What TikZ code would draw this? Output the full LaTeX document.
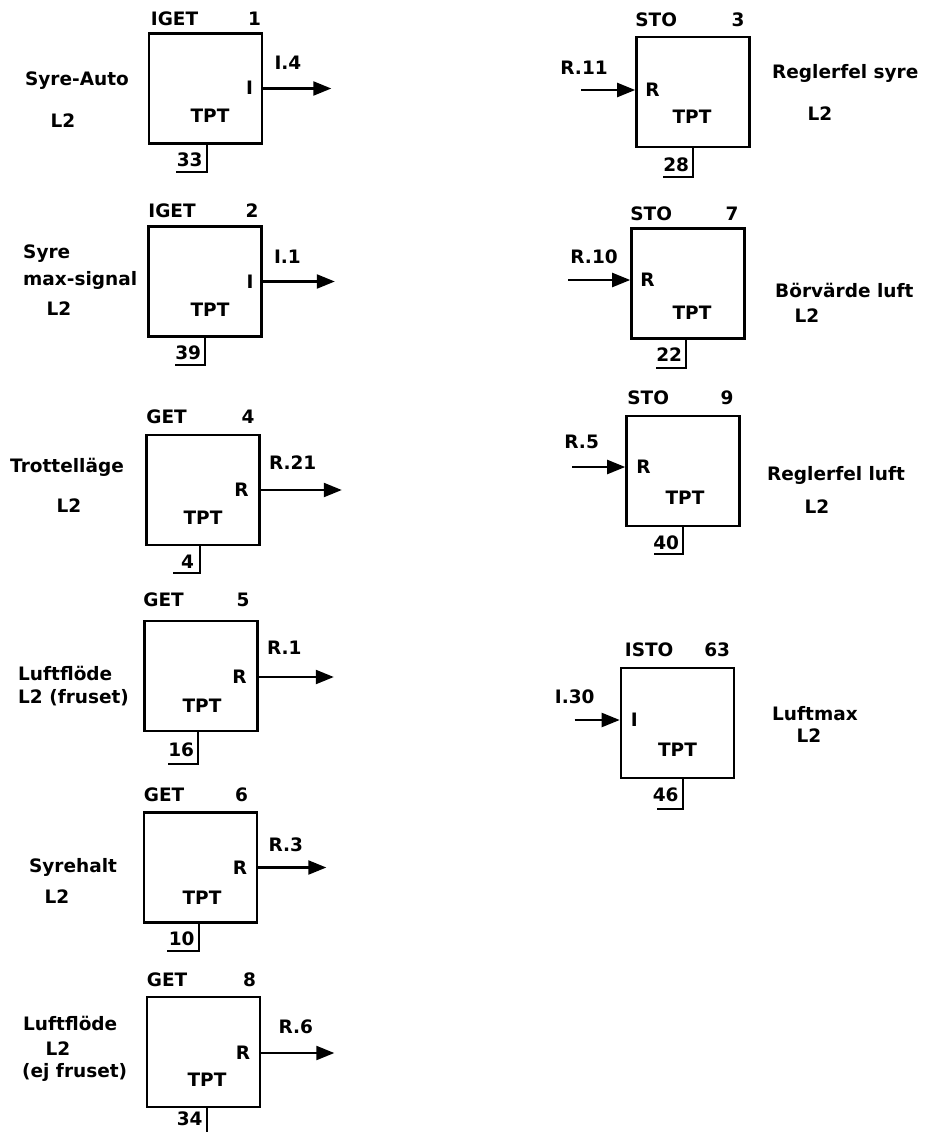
\documentclass[tikz,border=0pt]{standalone}
\usepackage{fontspec}
\setmainfont{DejaVu Sans}
\usetikzlibrary{arrows.meta,calc,positioning}

\begin{document}
\begin{tikzpicture}[x=1pt,y=-1pt,
  font=\fontsize{18.5}{22}\selectfont\bfseries,
  blk/.style={draw,line width=2.6pt,minimum width=113pt,minimum height=110pt,inner sep=0pt},
  txt/.style={inner sep=0pt,anchor=base},
  sig/.style={line width=2.2pt,-{Triangle[length=18pt,width=14pt]}},
  tab/.style={line width=2.2pt}]
\useasboundingbox (0,0) rectangle (924,1132);
\clip (0,0) rectangle (924,1132);

% left column: GET blocks
\node[blk] (b1) at (205.5,88.5) {};
\node[txt,anchor=base west] (b1h) at ($(b1.north west)+(3,-6.5)$) {IGET};
\node[txt,anchor=base east] (b1m) at ($(b1.north east)+(-2,-6.5)$) {1};
\node[txt,anchor=base east] (b1p) at ($(b1.east)+(-10,6.5)$) {I};
\node[txt] (b1c) at ($(b1.center)+(4.5,34)$) {TPT};
\coordinate (b1o) at ($(b1.east)+(68,0)$);
\draw[sig] (b1.east) -- (b1o);
\node[txt,anchor=base west] (b1s) at ($(b1.east)+(11,-18.5)$) {I.4};
\draw[tab] ($(b1.south west)+(59,0)$) |- ++(-31,27);
\node[txt,anchor=base east] (b1n) at ($(b1.south west)+(55,22)$) {33};
\node[txt] (d1a) at (77,85) {Syre-Auto};
\node[txt] (d1b) at (63,127) {L2};

\node[blk] (b2) at (205,281.5) {};
\node[txt,anchor=base west] (b2h) at ($(b2.north west)+(1,-7.5)$) {IGET};
\node[txt,anchor=base east] (b2m) at ($(b2.north east)+(-4,-7.5)$) {2};
\node[txt,anchor=base east] (b2p) at ($(b2.east)+(-9,6.5)$) {I};
\node[txt] (b2c) at ($(b2.center)+(5,35)$) {TPT};
\coordinate (b2o) at ($(b2.east)+(72,0)$);
\draw[sig] (b2.east) -- (b2o);
\node[txt,anchor=base west] (b2s) at ($(b2.east)+(11,-18.5)$) {I.1};
\draw[tab] ($(b2.south west)+(58,0)$) |- ++(-30,27);
\node[txt,anchor=base east] (b2n) at ($(b2.south west)+(54,22)$) {39};
\node[txt,anchor=base west] (d2a) at (23,258) {Syre};
\node[txt,anchor=base west] (d2b) at (23,285) {max-signal};
\node[txt] (d2c) at (59,315) {L2};

\node[blk] (b4) at (203,490) {};
\node[txt,anchor=base west] (b4h) at ($(b4.north west)+(1,-10.5)$) {GET};
\node[txt,anchor=base east] (b4m) at ($(b4.north east)+(-6,-10.5)$) {4};
\node[txt,anchor=base east] (b4p) at ($(b4.east)+(-12,6.5)$) {R};
\node[txt] (b4c) at ($(b4.center)+(0,34.5)$) {TPT};
\coordinate (b4o) at ($(b4.east)+(81,0)$);
\draw[sig] (b4.east) -- (b4o);
\node[txt,anchor=base west] (b4s) at ($(b4.east)+(8,-20.5)$) {R.21};
\draw[tab] ($(b4.south west)+(55,0)$) |- ++(-27,27);
\node[txt,anchor=base east] (b4n) at ($(b4.south west)+(49,22)$) {4};
\node[txt] (d4a) at (67,472) {Trottelläge};
\node[txt] (d4b) at (69,512) {L2};

\node[blk] (b5) at (201,676) {};
\node[txt,anchor=base west] (b5h) at ($(b5.north west)+(0,-13.5)$) {GET};
\node[txt,anchor=base east] (b5m) at ($(b5.north east)+(-9,-13.5)$) {5};
\node[txt,anchor=base east] (b5p) at ($(b5.east)+(-12,7.5)$) {R};
\node[txt] (b5c) at ($(b5.center)+(1,36.5)$) {TPT};
\coordinate (b5o) at ($(b5.east)+(75,1)$);
\draw[sig] ($(b5.east)+(0,1)$) -- (b5o);
\node[txt,anchor=base west] (b5s) at ($(b5.east)+(8,-21.5)$) {R.1};
\draw[tab] ($(b5.south west)+(55,0)$) |- ++(-30,32);
\node[txt,anchor=base east] (b5n) at ($(b5.south west)+(51,24)$) {16};
\node[txt,anchor=base west] (d5a) at (18,680) {Luftflöde};
\node[txt,anchor=base west] (d5b) at (18,703) {L2 (fruset)};

\node[blk] (b6) at (200.5,867.5) {};
\node[txt,anchor=base west] (b6h) at ($(b6.north west)+(1,-9.5)$) {GET};
\node[txt,anchor=base east] (b6m) at ($(b6.north east)+(-10,-9.5)$) {6};
\node[txt,anchor=base east] (b6p) at ($(b6.east)+(-11,7)$) {R};
\node[txt] (b6c) at ($(b6.center)+(1.5,37)$) {TPT};
\coordinate (b6o) at ($(b6.east)+(68,0)$);
\draw[sig] (b6.east) -- (b6o);
\node[txt,anchor=base west] (b6s) at ($(b6.east)+(10,-16.5)$) {R.3};
\draw[tab] ($(b6.south west)+(56,0)$) |- ++(-32,27);
\node[txt,anchor=base east] (b6n) at ($(b6.south west)+(52,22)$) {10};
\node[txt] (d6a) at (73,872) {Syrehalt};
\node[txt] (d6b) at (57,903) {L2};

\node[blk] (b8) at (203.5,1052) {};
\node[txt,anchor=base west] (b8h) at ($(b8.north west)+(1,-9.5)$) {GET};
\node[txt,anchor=base east] (b8m) at ($(b8.north east)+(-5,-9.5)$) {8};
\node[txt,anchor=base east] (b8p) at ($(b8.east)+(-11,7.5)$) {R};
\node[txt] (b8c) at ($(b8.center)+(3.5,34.5)$) {TPT};
\coordinate (b8o) at ($(b8.east)+(73,1)$);
\draw[sig] ($(b8.east)+(0,1)$) -- (b8o);
\node[txt,anchor=base west] (b8s) at ($(b8.east)+(17,-18.5)$) {R.6};
\draw[tab] ($(b8.south west)+(61,0)$) |- ++(-31,30);
\node[txt,anchor=base east] (b8n) at ($(b8.south west)+(57,17)$) {34};
\node[txt,anchor=base west] (d8a) at (23,1030) {Luftflöde};
\node[txt] (d8b) at (58,1055) {L2};
\node[txt,anchor=base west] (d8c) at (22,1077) {(ej fruset)};

% right column: STO blocks
\node[blk] (b3) at (693,92) {};
\node[txt,anchor=base west] (b3h) at ($(b3.north west)+(0,-9.5)$) {STO};
\node[txt,anchor=base east] (b3m) at ($(b3.north east)+(-6,-9.5)$) {3};
\node[txt,anchor=base west] (b3p) at ($(b3.west)+(10,4.5)$) {R};
\node[txt] (b3c) at ($(b3.center)+(-1,31.5)$) {TPT};
\coordinate (b3i) at ($(b3.west)+(-54,-2)$);
\draw[sig] (b3i) -- (b3i -| b3.west);
\node[txt,anchor=base west] (b3s) at ($(b3i)+(-21,-15.5)$) {R.11};
\draw[tab] ($(b3.south west)+(58,0)$) |- ++(-30,29);
\node[txt,anchor=base east] (b3n) at ($(b3.south west)+(54,23)$) {28};
\node[txt,anchor=base west] (d3a) at (772,78) {Reglerfel syre};
\node[txt] (d3b) at (820,120) {L2};

\node[blk] (b7) at (688,283.5) {};
\node[txt,anchor=base west] (b7h) at ($(b7.north west)+(0,-6.5)$) {STO};
\node[txt,anchor=base east] (b7m) at ($(b7.north east)+(-7,-6.5)$) {7};
\node[txt,anchor=base west] (b7p) at ($(b7.west)+(10,3)$) {R};
\node[txt] (b7c) at ($(b7.center)+(4,36)$) {TPT};
\coordinate (b7i) at ($(b7.west)+(-62,-3.5)$);
\draw[sig] (b7i) -- (b7i -| b7.west);
\node[txt,anchor=base west] (b7s) at ($(b7i)+(2,-16.5)$) {R.10};
\draw[tab] ($(b7.south west)+(56,0)$) |- ++(-30,28);
\node[txt,anchor=base east] (b7n) at ($(b7.south west)+(52,22)$) {22};
\node[txt,anchor=base west] (d7a) at (775,297) {Börvärde luft};
\node[txt] (d7b) at (807,322) {L2};

\node[blk] (b9) at (683,471) {};
\node[txt,anchor=base west] (b9h) at ($(b9.north west)+(2,-10.5)$) {STO};
\node[txt,anchor=base east] (b9m) at ($(b9.north east)+(-7,-10.5)$) {9};
\node[txt,anchor=base west] (b9p) at ($(b9.west)+(11,2.5)$) {R};
\node[txt] (b9c) at ($(b9.center)+(2,33.5)$) {TPT};
\coordinate (b9i) at ($(b9.west)+(-53,-4)$);
\draw[sig] (b9i) -- (b9i -| b9.west);
\node[txt,anchor=base west] (b9s) at ($(b9i)+(-8,-18.5)$) {R.5};
\draw[tab] ($(b9.south west)+(58,0)$) |- ++(-29,27);
\node[txt,anchor=base east] (b9n) at ($(b9.south west)+(54,22)$) {40};
\node[txt,anchor=base west] (d9a) at (767,480) {Reglerfel luft};
\node[txt] (d9b) at (817,513) {L2};

\node[blk] (b63) at (677.5,723) {};
\node[txt,anchor=base west] (b63h) at ($(b63.north west)+(5,-10.5)$) {ISTO};
\node[txt,anchor=base east] (b63m) at ($(b63.north east)+(-5,-10.5)$) {63};
\node[txt,anchor=base west] (b63p) at ($(b63.west)+(11,3.5)$) {I};
\node[txt] (b63c) at ($(b63.center)+(0,33.5)$) {TPT};
\coordinate (b63i) at ($(b63.west)+(-45,-3)$);
\draw[sig] (b63i) -- (b63i -| b63.west);
\node[txt,anchor=base west] (b63s) at ($(b63i)+(-20,-16.5)$) {I.30};
\draw[tab] ($(b63.south west)+(63,0)$) |- ++(-26,30);
\node[txt,anchor=base east] (b63n) at ($(b63.south west)+(59,22)$) {46};
\node[txt,anchor=base west] (d63a) at (772,720) {Luftmax};
\node[txt] (d63b) at (809,742) {L2};
\end{tikzpicture}
\end{document}
